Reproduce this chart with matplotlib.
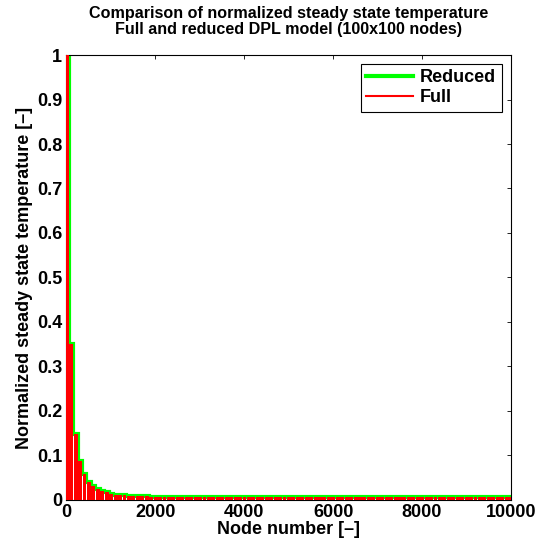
import numpy as np
import matplotlib
matplotlib.use("Agg")
import matplotlib.pyplot as plt
from matplotlib.lines import Line2D

plt.rcParams["font.family"] = ["Liberation Sans", "DejaVu Sans"]
plt.rcParams["font.weight"] = "bold"

# normalized steady state temperature at the first node of each of the 100 grid rows
row_level = [
    1.0, 0.35, 0.147, 0.087, 0.057, 0.040, 0.031, 0.025, 0.020, 0.017,
    0.014, 0.012, 0.011, 0.010, 0.0095, 0.009, 0.0085, 0.008, 0.0078, 0.0075,
    0.0072, 0.0070, 0.0068, 0.0066, 0.0065, 0.0064, 0.0063, 0.0062, 0.0061, 0.0060,
    0.0060, 0.0060, 0.0060, 0.0060, 0.0060, 0.0060, 0.0060, 0.0060, 0.0060, 0.0060,
    0.0059, 0.0059, 0.0059, 0.0059, 0.0059, 0.0058, 0.0058, 0.0058, 0.0058, 0.0058,
    0.0057, 0.0057, 0.0057, 0.0057, 0.0057, 0.0056, 0.0056, 0.0056, 0.0056, 0.0056,
    0.0055, 0.0055, 0.0055, 0.0055, 0.0055, 0.0055, 0.0055, 0.0055, 0.0055, 0.0055,
    0.0055, 0.0055, 0.0055, 0.0055, 0.0055, 0.0055, 0.0055, 0.0055, 0.0055, 0.0055,
    0.0055, 0.0055, 0.0055, 0.0055, 0.0055, 0.0055, 0.0055, 0.0055, 0.0055, 0.0055,
    0.0055, 0.0055, 0.0055, 0.0055, 0.0055, 0.0055, 0.0055, 0.0055, 0.0055, 0.0055,
]
nodes_per_row = 100
n_nodes = 10000
x_ticks = [0, 2000, 4000, 6000, 8000, 10000]
y_ticks = [0, 0.1, 0.2, 0.3, 0.4, 0.5, 0.6, 0.7, 0.8, 0.9, 1]
y_ticklabels = ["0", "0.1", "0.2", "0.3", "0.4", "0.5", "0.6", "0.7", "0.8", "0.9", "1"]

levels = np.array(row_level)
rows = np.arange(len(levels))
starts = np.clip(rows * nodes_per_row - nodes_per_row / 2, 0, None)
ends = np.append(starts[1:], n_nodes)

fig = plt.figure(figsize=(5.36, 5.56), dpi=100)
ax = fig.add_axes([0.124, 0.101, 0.829, 0.800])

# reduced model: staircase envelope
step_x = np.append(starts, n_nodes)
step_y = np.append(levels, levels[-1])
ax.step(step_x, step_y, where="post", color="#00ff00", lw=3, zorder=2,
        solid_joinstyle="miter")

# full model: red columns per row
gap = 12
ax.bar(starts + gap * (rows > 0), levels, width=ends - starts - gap * (rows > 0),
       align="edge", color="#ff0000", linewidth=0, zorder=3)

ax.set_xlim(0, n_nodes)
ax.set_ylim(0, 1)
ax.set_xticks(x_ticks)
ax.set_yticks(y_ticks)
ax.set_yticklabels(y_ticklabels)
ax.tick_params(direction="in", top=True, right=True, length=3, labelsize=13, width=0.6,
               pad=3)
for s in ax.spines.values():
    s.set_linewidth(0.8)

ax.set_xlabel("Node number [\u2013]", fontsize=13, fontweight="bold", labelpad=0)
ax.set_ylabel("Normalized steady state temperature [\u2013]", fontsize=13,
              fontweight="bold", labelpad=3)
ax.set_title("Comparison of normalized steady state temperature\n"
             "Full and reduced DPL model (100x100 nodes)",
             fontsize=11.6, fontweight="bold", pad=15, linespacing=1.1)

red_proxy = Line2D([], [], color="#ff0000", lw=1.5)
green_proxy = Line2D([], [], color="#00ff00", lw=3)
leg = ax.legend([green_proxy, red_proxy], ["Reduced", "Full"], loc="upper right",
                fontsize=13, handlelength=2.6, fancybox=False, framealpha=1,
                borderaxespad=0.5, handletextpad=0.4, borderpad=0.3, labelspacing=0.15)
leg.get_frame().set_edgecolor("black")
leg.get_frame().set_linewidth(0.8)

fig.savefig("out.png", dpi=100)
